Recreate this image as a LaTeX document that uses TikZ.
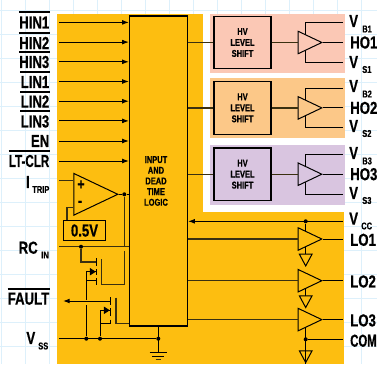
\documentclass[tikz,border=0pt]{standalone}
\usepackage{fontspec}
\setmainfont[FakeStretch=0.76,BoldFont={Liberation Sans Bold},BoldFeatures={FakeStretch=0.76,FakeBold=0.6}]{Liberation Sans}
\usetikzlibrary{arrows.meta,positioning,calc,shapes.geometric}
\definecolor{icbody}{HTML}{FDBE10}
\definecolor{panelpink}{HTML}{FBC8B5}
\definecolor{panelorange}{HTML}{FCC888}
\definecolor{panelpurple}{HTML}{D9C5E0}
\definecolor{gridblue}{HTML}{DDF0FB}
\definecolor{darkwire}{HTML}{3A3010}

\begin{document}
\begin{tikzpicture}[
  x=0.75pt, y=-0.75pt,
  wire/.style={draw=black, line width=0.75pt},
  heavywire/.style={draw=darkwire, line width=1pt},
  sig/.style={wire, -{Latex[length=5pt,width=3.6pt]}},
  pinlab/.style={font=\fontsize{13}{15}\selectfont\bfseries, inner sep=0pt},
  sublab/.style={font=\fontsize{7.4}{8}\selectfont\bfseries, inner sep=0pt},
  notbar/.style={draw=black, line width=1.1pt},
  hvbox/.style={draw=black, line width=0.9pt, minimum width=42.75pt, minimum height=39.4pt, inner sep=0pt, align=center, font=\fontsize{7.4}{8.25}\selectfont\bfseries},
  buffer/.style={wire, isosceles triangle, isosceles triangle stretches, minimum width=16.8pt, minimum height=17.7pt, inner sep=0pt, anchor=lower side},
  gndtri/.style={wire, fill=icbody, isosceles triangle, isosceles triangle stretches, shape border rotate=270, minimum width=9.5pt, minimum height=8.8pt, inner sep=0pt, anchor=lower side},
  diode/.style={fill=black, isosceles triangle, isosceles triangle stretches, minimum width=5.6pt, minimum height=4.4pt, inner sep=0pt, anchor=apex},
  dotnode/.style={circle, fill=black, minimum size=3pt, inner sep=0pt}
]
\useasboundingbox (0,0) rectangle (377,364);

% Background.
\fill[white] (0,0) rectangle (377,364);
\foreach \x in {1,25,...,361} {
  \draw[gridblue, line width=0.75pt] (\x,0) -- (\x,364);
}
\foreach \y in {10,34,...,346} {
  \draw[gridblue, line width=0.75pt] (0,\y) -- (377,\y);
}
\fill[icbody] (57,14) rectangle (203,364);
\fill[icbody] (203,212) rectangle (344,364);
\fill[white] (203,14) rectangle (345,212);
\fill[panelpink] (210,14) rectangle (345,73);
\fill[panelorange] (210,78) rectangle (345,138);
\fill[panelpurple] (210,145) rectangle (345,205);

% Logic block.
\node[draw=black, line width=0.9pt, minimum width=43.5pt, minimum height=232.5pt, inner sep=0pt] (logic) at (158.5,171) {};
\node[align=center, inner sep=0pt, font=\fontsize{7.4}{8}\selectfont\bfseries] (logictext) at (156,181) {INPUT\\AND\\DEAD\\TIME\\LOGIC};

% Logic inputs.
\foreach \lbl/\y/\b [count=\i] in {HIN1/22.5/12,HIN2/43/33,HIN3/62/52,LIN1/82/72,LIN2/101.5/92,LIN3/121.5/111} {
  \node[pinlab, anchor=east] (in\i) at (49.5,\y) {\lbl};
  \draw[notbar] (in\i.west |- 0,\b) -- (in\i.east |- 0,\b);
  \coordinate (s\i) at (59,{\i*19.7+2.7});
  \draw[sig] (s\i) -- (s\i -| logic.west);
}
\node[pinlab, anchor=east] (en) at (49.5,141) {EN};
\coordinate (sen) at (59,141);
\draw[sig] (sen) -- (sen -| logic.west);
\node[pinlab, anchor=east] (ltclr) at (49.5,161) {\scalebox{.88}[1]{LT-CLR}};
\draw[notbar] (ltclr.west |- 0,151) -- (ltclr.east |- 0,151);
\coordinate (sclr) at (59,161);
\draw[sig] (sclr) -- (sclr -| logic.west);

% Current trip comparator.
\node[pinlab, anchor=east] (itrip) at (30,182) {I};
\node[sublab, anchor=west] (itripsub) at (32,189.5) {TRIP};
\node[buffer, minimum width=31.3pt, minimum height=33pt] (comp) at (73.3,194.3) {};
\node[inner sep=0pt, font=\fontsize{12}{13}\selectfont\bfseries] (compplus) at (81,185) {+};
\node[inner sep=0pt, font=\fontsize{12}{13}\selectfont\bfseries] (compminus) at (80,203.5) {-};
\coordinate (trippin) at (59,180.7);
\draw[heavywire] (trippin) -- (trippin -| comp.lower side);
\node[draw=black, line width=0.9pt, minimum width=31.8pt, minimum height=15pt, inner sep=0pt, font=\fontsize{13}{15}\selectfont\bfseries] (vref) at (84.5,230.5) {0.5V};
\coordinate (vrefturn) at (67,207.3);
\draw[heavywire] (vrefturn -| comp.lower side) -- (vrefturn) -- (vrefturn |- vref.north);
\node[dotnode] (compdot) at (124.3,194.3) {};
\draw[wire] (comp.apex) -- (compdot) -- (compdot -| logic.west);

% RC input and first transistor.
\node[pinlab, anchor=east] (rc) at (38,247.7) {RC};
\node[sublab, anchor=west] (rcsub) at (41,255) {IN};
\coordinate (rcpin) at (59,246.7);
\draw[heavywire] (rcpin) -- (rcpin -| logic.west);
\draw[heavywire] (compdot) -- (compdot |- rcpin);
\node[dotnode] (rcdot) at (81,246.7) {};
\coordinate (gateone) at (96.3,262);
\draw[heavywire] (rcdot) -- (rcdot |- gateone) -- (gateone);
\draw[wire] (96.3,258) -- (96.3,266);
\draw[wire] (96.3,269) -- (96.3,275);
\draw[wire] (96.3,278) -- (96.3,285);
\draw[heavywire] (124.3,250.5) -- (124.3,284.7) -- (101.7,284.7) -- (101.7,259);
\coordinate (srcone) at (86.3,280.7);
\draw[wire] (srcone) -- (96.3,280.7);
\draw[wire] (86.3,271.7) -- (96.3,271.7);
\node[diode] (dione) at (96.5,271.7) {};

% Fault output and second transistor.
\node[pinlab, anchor=east] (fault) at (49.5,298.7) {FAULT};
\draw[notbar] (fault.west |- 0,289) -- (fault.east |- 0,289);
\coordinate (gatetwo) at (110.3,301);
\coordinate (faultpin) at (63,301);
\draw[sig] (gatetwo) -- (faultpin);
\draw[wire] (110.3,297) -- (110.3,305);
\draw[wire] (110.3,308) -- (110.3,316);
\draw[wire] (110.3,319.5) -- (110.3,324);
\draw[wire] (100,310.3) -- (110.3,310.3);
\node[diode] (ditwo) at (110.5,310.3) {};
\draw[wire] (100,323) -- (110.3,323);
\coordinate (draintwo) at (116,323.7);
\draw[heavywire] (116,297.7) -- (draintwo) -- (draintwo -| logic.west);

% Vss and ground.
\node[pinlab, anchor=east] (vss) at (35.5,338) {V};
\node[sublab, anchor=west] (vsssub) at (38,346) {SS};
\coordinate (vsspin) at (59,338.7);
\node[dotnode] (vssa) at (86.3,338.7) {};
\node[dotnode] (vssb) at (100,338.7) {};
\node[dotnode] (vssc) at (158.3,338.7) {};
\draw[wire] (vsspin) -- (vssc);
\draw[wire] (vssa) -- (86.3,304.5);
\draw[wire] (86.3,300) -- (srcone) -- (86.3,271.7);
\draw[wire] (vssb) -- (100,310.3);
\coordinate (gnd) at (158.3,352);
\draw[wire] (logic.south -| vssc) -- (gnd);
\draw[wire] (149.5,352) -- (166.5,352);
\draw[wire] (152,356) -- (164,356);
\draw[heavywire] (155.5,359.7) -- (161,359.7);

% High side channels.
\foreach \ty/\by in {22.7/62.3,88/127.7,154.3/194.7} {
  \coordinate (railtop) at (305.7,\ty);
  \coordinate (railbot) at (305.7,\by);
  \coordinate (railtopend) at (342.5,\ty);
  \coordinate (railbotend) at (342.5,\by);
  \draw[wire] (railtopend) -- (railtop) -- (railbot) -- (railbotend);
}
\foreach \cy/\txt/\pfill/\vt/\vb/\bn/\sn [count=\i] in {42.5/HO1/panelpink/21/62/B1/S1,107.9/HO2/panelorange/86/126/B2/S2,174.2/HO3/panelpurple/153/193/B3/S3} {
  \node[buffer, fill=\pfill] (hbuf\i) at (297.7,\cy) {};
  \node[hvbox] (hv\i) at (242.5,\cy) {HV\\LEVEL\\SHIFT};
  \draw[heavywire] (hv\i.west -| logic.east) -- (hv\i.west);
  \draw[heavywire] (hv\i.east) -- (hbuf\i.lower side);
  \coordinate (hout\i) at (342.5,\cy);
  \draw[wire] (hbuf\i.apex) -- (hout\i);
  \node[pinlab, anchor=west] (ho\i) at (350,\cy) {\txt};
  \node[pinlab, anchor=west] (vb\i) at (349,\vt) {V};
  \node[sublab, anchor=west] (vbs\i) at (362,\vt+8) {\bn};
  \node[pinlab, anchor=west] (vs\i) at (349,\vb) {V};
  \node[sublab, anchor=west] (vss\i) at (362,\vb+7.5) {\sn};
}

% Low side channels.
\coordinate (vccpin) at (342.5,221.3);
\draw[sig] (vccpin) -- (vccpin -| logic.east);
\node[dotnode] (vccdot) at (305.7,221.3) {};
\node[pinlab, anchor=west] (vcc) at (349,218.7) {V};
\node[sublab, anchor=west] (vccsub) at (361,226) {CC};
\draw[wire] (vccdot) -- (305.7,255);
\draw[wire] (305.7,285) -- (305.7,297);
\node[dotnode] (comdot) at (305.7,339.3) {};
\coordinate (compin) at (342.5,339.3);
\draw[wire] (305.7,325) -- (305.7,363);
\draw[wire] (comdot) -- (compin);
\foreach \cy/\txt/\gy [count=\i] in {239/LO1/253.7,280.7/LO2/295.3,319.6/LO3/350.3} {
  \node[buffer, fill=icbody] (lbuf\i) at (297.7,\cy) {};
  \draw[heavywire] (lbuf\i.lower side -| logic.east) -- (lbuf\i.lower side);
  \coordinate (lout\i) at (342.5,\cy);
  \draw[wire] (lbuf\i.apex) -- (lout\i);
  \node[gndtri] (lgnd\i) at (305.7,\gy) {};
  \node[pinlab, anchor=west] (lo\i) at (350,\cy+0.8) {\txt};
}
\draw[wire] (lgnd3.lower side) -- (lgnd3.apex);
\node[pinlab, anchor=west] (com) at (350,340.7) {\scalebox{.86}[1]{COM}};
\end{tikzpicture}
\end{document}
